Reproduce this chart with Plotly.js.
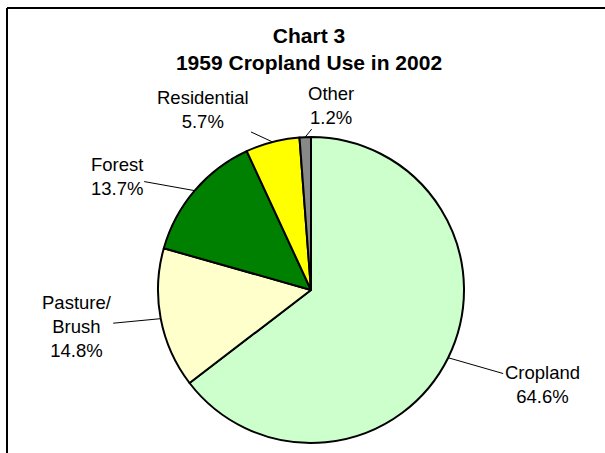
<!DOCTYPE html>
<html>
<head>
<meta charset="utf-8">
<script src="https://cdn.plot.ly/plotly-3.0.1.min.js"></script>
<style>
html,body{margin:0;padding:0;background:#fff;}
#chart{width:605px;height:453px;}
</style>
</head>
<body>
<div id="chart"></div>
<script>
// ---- data ----
var categories = ["Cropland", "Pasture/<br>Brush", "Forest", "Residential", "Other"];
var percents = [64.6, 14.8, 13.7, 5.7, 1.2];
var labelText = ["Cropland<br>64.6%", "Pasture/<br>Brush<br>14.8%", "Forest<br>13.7%", "Residential<br>5.7%", "Other<br>1.2%"];

// ---- style ----
var colors = ["#CCFFCC", "#FFFFCC", "#008000", "#FFFF00", "#888888"];
var W = 605, H = 453;
var cx = 311, cy = 290, R = 153;           // pie centre / radius in pixels
var labelOffsets = [[94, 27], [-84, 8], [-78, -14], [-69, -32], [26, -32]];

var total = percents.reduce(function(a, b){ return a + b; }, 0);
var annotations = [];
var cum = 0;
for (var i = 0; i < percents.length; i++) {
  var mid = (cum + percents[i] / 2) / total * 2 * Math.PI;  // clockwise from 12 o'clock
  cum += percents[i];
  var px = cx + R * Math.sin(mid);
  var py = cy - R * Math.cos(mid);
  annotations.push({
    xref: "paper", yref: "paper",
    x: px / W, y: 1 - py / H,
    text: labelText[i],
    showarrow: true, arrowhead: 0, arrowwidth: 1, arrowcolor: "#000",
    ax: labelOffsets[i][0], ay: labelOffsets[i][1],
    font: {family: "Liberation Sans, Arial, sans-serif", size: 18.5, color: "#000"},
    align: "center"
  });
}

var trace = {
  type: "pie",
  labels: categories,
  values: percents,
  sort: false,
  direction: "clockwise",
  rotation: 0,
  textinfo: "none",
  hoverinfo: "label+percent",
  marker: {colors: colors, line: {color: "#000", width: 2}},
  domain: {x: [(cx - R) / W, (cx + R) / W], y: [(H - cy - R) / H, (H - cy + R) / H]},
  showlegend: false
};

var layout = {
  width: W, height: H,
  margin: {l: 0, r: 0, t: 0, b: 0},
  paper_bgcolor: "#fff",
  title: {
    text: "<b>Chart 3<br>1959 Cropland Use in 2002</b>",
    font: {family: "Liberation Sans, Arial, sans-serif", size: 21, color: "#000"},
    x: 309 / W, xanchor: "center",
    y: 1 - 43 / H, yanchor: "middle"
  },
  annotations: annotations,
  shapes: [
    {type: "line", xref: "paper", yref: "paper", x0: 7 / W, x1: 7 / W, y0: 1 - 8 / H, y1: -0.01, line: {color: "#000", width: 2}},
    {type: "line", xref: "paper", yref: "paper", x0: 7 / W, x1: 1.01, y0: 1 - 8 / H, y1: 1 - 8 / H, line: {color: "#000", width: 2}}
  ]
};

Plotly.newPlot("chart", [trace], layout, {displayModeBar: false, staticPlot: true});
</script>
</body>
</html>
